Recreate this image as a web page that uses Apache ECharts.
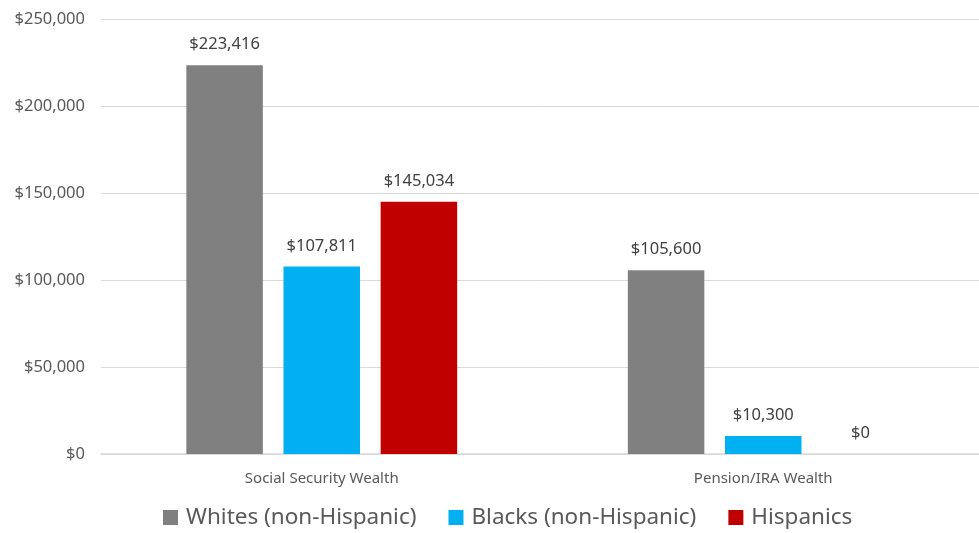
<!DOCTYPE html>
<html><head><meta charset="utf-8">
<script src="https://cdn.jsdelivr.net/npm/echarts@6/dist/echarts.min.js"></script>
<style>html,body{margin:0;padding:0;background:#fff;overflow:hidden}#c{width:990px;height:533px}</style>
</head><body><div id="c"></div>
<script>
var categories = ['Social Security Wealth', 'Pension/IRA Wealth'];
var seriesNames = ['Whites (non-Hispanic)', 'Blacks (non-Hispanic)', 'Hispanics'];
var whites = [223416, 105600];
var blacks = [107811, 10300];
var hispanics = [145034, 0];
var colors = ['#808080', '#00b0f0', '#c00000'];
var font = 'Noto Sans';
function money(v){ return '$' + Math.round(v).toLocaleString('en-US'); }
var data = [whites, blacks, hispanics];
var chart = echarts.init(document.getElementById('c'));
chart.setOption({
  animation: false,
  textStyle: { fontFamily: font },
  grid: { left: 101, top: 19, width: 883, height: 435, containLabel: false },
  legend: {
    top: 506, left: 163, padding: 0, itemWidth: 15, itemHeight: 15, itemGap: 32,
    icon: 'rect',
    textStyle: { fontSize: 22.5, color: '#595959', fontFamily: font, padding: [0, 0, 0, 3] },
    data: seriesNames
  },
  xAxis: {
    type: 'category', data: categories,
    axisTick: { show: false },
    axisLine: { lineStyle: { color: '#d9d9d9', width: 1.5 } },
    axisLabel: { fontSize: 15, color: '#595959', margin: 17 }
  },
  yAxis: {
    type: 'value', min: 0, max: 250000, interval: 50000,
    axisLine: { show: false }, axisTick: { show: false },
    splitLine: { lineStyle: { color: '#d9d9d9' } },
    axisLabel: { fontSize: 16.5, color: '#595959', margin: 16, formatter: money }
  },
  series: seriesNames.map(function(n, i){
    return {
      name: n, type: 'bar', data: data[i], barWidth: 76.5, barGap: '27%',
      itemStyle: { color: colors[i] },
      label: { show: true, position: 'top', distance: 12, fontSize: 16.5, color: '#404040', formatter: function(p){ return money(p.value); } }
    };
  })
});
</script></body></html>
